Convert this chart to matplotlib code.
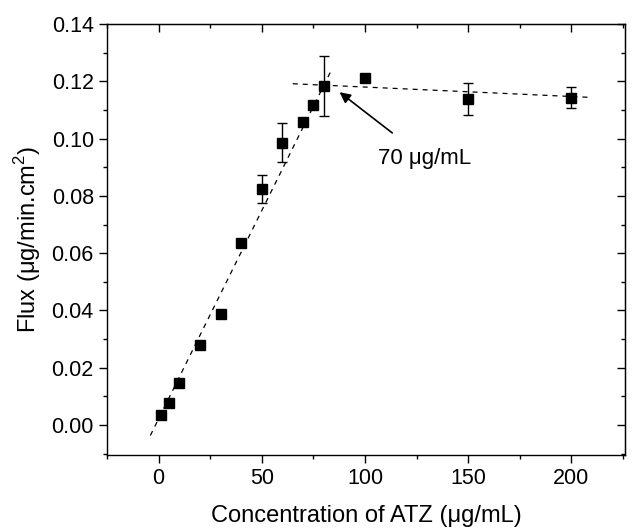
import matplotlib
matplotlib.use('Agg')
import matplotlib.pyplot as plt
from matplotlib.ticker import MultipleLocator
import numpy as np

plt.rcParams['font.family'] = ['Liberation Sans', 'DejaVu Sans']
plt.rcParams['mathtext.fontset'] = 'custom'
plt.rcParams['mathtext.rm'] = 'Liberation Sans'

# data
conc = [1, 5, 10, 20, 30, 40, 50, 60, 70, 75, 80, 100, 150, 200]
flux = [0.0035, 0.0077, 0.0147, 0.0279, 0.0388, 0.0637, 0.0824, 0.0986,
        0.1057, 0.1116, 0.1183, 0.1213, 0.1138, 0.1143]
flux_err = [0.0005, 0.0005, 0.0008, 0.0005, 0.0005, 0.0010, 0.0050, 0.0068,
            0.0005, 0.0005, 0.0105, 0.0005, 0.0055, 0.0037]

# fitted lines (slope, intercept) and their x ranges
rise_fit = (0.001454, 0.00217)
rise_range = (-4, 83.5)
plateau_fit = (-0.000033, 0.1213)
plateau_range = (65, 210)

fig = plt.figure(figsize=(6.43, 5.28), dpi=100)
ax = fig.add_axes([0.1664, 0.138, 0.8056, 0.8165])

for fit, rng in [(rise_fit, rise_range), (plateau_fit, plateau_range)]:
    xs = np.array(rng)
    ax.plot(xs, fit[0] * xs + fit[1], color='black', linestyle=(0, (4, 4)), linewidth=0.9)

ax.errorbar(conc, flux, yerr=flux_err, fmt='s', color='black', markersize=7.5,
            ecolor='black', elinewidth=1, capsize=3.5, capthick=1)

ax.annotate('70 \u03bcg/mL', xy=(87.7, 0.1162), xytext=(129, 0.0932),
            fontsize=16, ha='center', va='center',
            arrowprops=dict(arrowstyle='-|>', color='black', lw=1.2,
                            mutation_scale=16, shrinkA=14, shrinkB=0))

ax.set_xlim(-25, 226)
ax.set_ylim(-0.0105, 0.14)
ax.xaxis.set_major_locator(MultipleLocator(50))
ax.xaxis.set_minor_locator(MultipleLocator(25))
ax.yaxis.set_major_locator(MultipleLocator(0.02))
ax.yaxis.set_minor_locator(MultipleLocator(0.01))
ax.yaxis.set_major_formatter(plt.FormatStrFormatter('%.2f'))
ax.tick_params(which='both', direction='out', labelsize=15.5, width=1)
ax.tick_params(which='major', length=6)
ax.tick_params(which='minor', length=3)

for s in ['top', 'bottom', 'left', 'right']:
    ax.spines[s].set_linewidth(1)

# mirrored inward ticks on top and right
top = ax.secondary_xaxis('top')
top.xaxis.set_major_locator(MultipleLocator(50))
top.xaxis.set_minor_locator(MultipleLocator(25))
top.tick_params(which='both', direction='in', labeltop=False, width=1)
top.tick_params(which='major', length=6)
top.tick_params(which='minor', length=3)
right = ax.secondary_yaxis('right')
right.yaxis.set_major_locator(MultipleLocator(0.02))
right.yaxis.set_minor_locator(MultipleLocator(0.01))
right.tick_params(which='both', direction='in', labelright=False, width=1)
right.tick_params(which='major', length=6)
right.tick_params(which='minor', length=3)

ax.set_xlabel('Concentration of ATZ (\u03bcg/mL)', fontsize=17, labelpad=11)
ax.set_ylabel('Flux (\u03bcg/min.cm$^{2}$)', fontsize=17, labelpad=6)

fig.savefig('out.png', dpi=100)
